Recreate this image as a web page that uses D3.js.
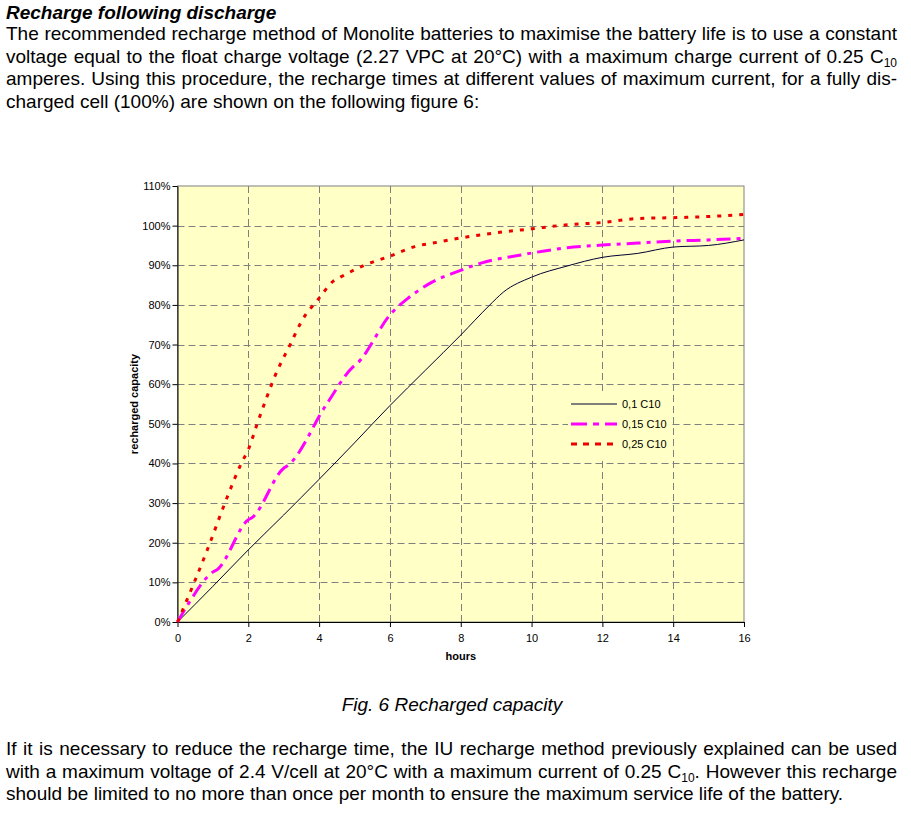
<!DOCTYPE html>
<html lang="en">
<head>
  <meta charset="UTF-8">
  <title>Recharged capacity</title>
  <script src="https://d3js.org/d3.v7.min.js"></script>
  <style>
    body { margin: 0; background: #fff; }
    svg { display: block; }
  </style>
</head>
<body>
<svg width="911" height="831"></svg>
<script>
  // ---- data ----
  const seriesNames = ["0,1 C10", "0,15 C10", "0,25 C10"];

  const hours01 = [0, 1, 2, 3, 4, 5, 6, 7, 8, 8.8, 9.2, 10, 11, 12, 13, 14, 15, 16];
  const cap01 = [0, 9, 18.2, 27, 36, 45.2, 54.6, 63.5, 72.4, 79.8, 83.2, 87, 89.8, 92, 93, 94.6, 95, 96.4];

  const hours015 = [0, 0.3, 1.0, 1.12, 2.0, 2.1, 3.0, 3.12, 4.2, 4.95, 5.07, 6.05, 6.5, 7.1, 7.9, 8.6, 9.7, 11, 12, 13, 14, 15, 16];
  const cap015 = [0, 4.5, 12.6, 13.2, 25.8, 26.3, 38.8, 39.5, 54.8, 64.3, 65.2, 78, 81.6, 85.3, 88.4, 90.6, 92.6, 94.4, 95.1, 95.6, 96.1, 96.4, 96.8];

  const hours025 = [0, 0.45, 0.85, 1.4, 1.8, 2.0, 2.25, 2.5, 2.75, 3.2, 3.5, 4.0, 4.4, 4.6, 5.3, 6.0, 6.7, 7.4, 8, 9, 10, 11, 12, 13, 14, 15, 16];
  const cap025 = [0, 9.5, 18.4, 31.4, 40, 43.5, 50, 56.2, 62, 70.3, 75.8, 81.7, 86, 87, 90.1, 92.3, 94.7, 95.9, 96.9, 98.2, 99.2, 100.2, 100.8, 101.8, 102, 102.3, 102.8];

  const xTicks = [0, 2, 4, 6, 8, 10, 12, 14, 16];
  const yTicks = [0, 10, 20, 30, 40, 50, 60, 70, 80, 90, 100, 110];

  // page text (segments marked sub are subscripts)
  const titleText = "Recharge following discharge";
  const introLines = [
    [{ t: "The recommended recharge method of Monolite batteries to maximise the battery life is to use a constant" }],
    [{ t: "voltage equal to the float charge voltage (2.27 VPC at 20°C) with a maximum charge current of 0.25 C" }, { t: "10", sub: true }],
    [{ t: "amperes. Using this procedure, the recharge times at different values of maximum current, for a fully dis-" }],
    [{ t: "charged cell (100%) are shown on the following figure 6:" }]
  ];
  const captionText = "Fig. 6 Recharged capacity";
  const outroLines = [
    [{ t: "If it is necessary to reduce the recharge time, the IU recharge method previously explained can be used" }],
    [{ t: "with a maximum voltage of 2.4 V/cell at 20°C with a maximum current of 0.25 C" }, { t: "10", sub: true }, { t: ". However this recharge" }],
    [{ t: "should be limited to no more than once per month to ensure the maximum service life of the battery." }]
  ];

  const series = [
    { name: seriesNames[0], hours: hours01, cap: cap01, color: "#000033", width: 1, dash: null },
    { name: seriesNames[1], hours: hours015, cap: cap015, color: "#ff00ff", width: 3, dash: "14,6,4,6" },
    { name: seriesNames[2], hours: hours025, cap: cap025, color: "#ee0000", width: 3, dash: "4,7" }
  ];

  const font = "Arial, 'Liberation Sans', sans-serif";
  const svg = d3.select("svg");

  // ---- prose ----
  const textLeft = 6, textRight = 897;

  function proseLine(segs, y, justify) {
    const t = svg.append("text")
      .attr("x", textLeft)
      .attr("y", y)
      .attr("font-family", font)
      .attr("font-size", "19px")
      .attr("fill", "#000");
    let shifted = false;
    segs.forEach(s => {
      const ts = t.append("tspan").text(s.t);
      if (s.sub) {
        ts.attr("font-size", "12px").attr("dy", 4);
        shifted = true;
      } else if (shifted) {
        ts.attr("dy", -4);
        shifted = false;
      }
    });
    if (justify) {
      // spread words over the full column like the justified source
      const len = t.node().getComputedTextLength();
      const spaces = segs.map(s => s.t).join("").split(" ").length - 1;
      t.attr("word-spacing", (textRight - textLeft - len) / spaces);
    }
  }

  svg.append("text")
    .attr("x", textLeft)
    .attr("y", 19)
    .attr("font-family", font)
    .attr("font-size", "19px")
    .attr("font-weight", "bold")
    .attr("font-style", "italic")
    .text(titleText);

  introLines.forEach((l, i) => proseLine(l, 40 + i * 22.5, i < introLines.length - 1));
  outroLines.forEach((l, i) => proseLine(l, 755 + i * 22.5, i < outroLines.length - 1));

  svg.append("text")
    .attr("x", 452)
    .attr("y", 711)
    .attr("text-anchor", "middle")
    .attr("font-family", font)
    .attr("font-size", "19px")
    .attr("font-style", "italic")
    .text(captionText);

  // ---- chart ----
  const x = d3.scaleLinear().domain([0, 16]).range([177.5, 744]);
  const y = d3.scaleLinear().domain([0, 110]).range([622, 186]);

  const plot = svg.append("g");

  plot.append("rect")
    .attr("x", x(0)).attr("y", y(110))
    .attr("width", x(16) - x(0)).attr("height", y(0) - y(110))
    .attr("fill", "#ffffc6")
    .attr("stroke", "#808080");

  // gridlines
  plot.append("g").selectAll("line")
    .data(yTicks.filter(d => d > 0 && d < 110))
    .join("line")
    .attr("x1", x(0)).attr("x2", x(16))
    .attr("y1", d => Math.round(y(d)) + 0.5).attr("y2", d => Math.round(y(d)) + 0.5)
    .attr("stroke", "#808080").attr("stroke-dasharray", "7,4");

  plot.append("g").selectAll("line")
    .data(xTicks.filter(d => d > 0 && d < 16))
    .join("line")
    .attr("x1", d => Math.round(x(d)) + 0.5).attr("x2", d => Math.round(x(d)) + 0.5)
    .attr("y1", y(110)).attr("y2", y(0))
    .attr("stroke", "#808080").attr("stroke-dasharray", "7,4");

  // axes
  const yAxis = plot.append("g")
    .attr("transform", "translate(" + x(0) + ",0)")
    .call(d3.axisLeft(y).tickValues(yTicks).tickFormat(d => d + "%").tickSize(5).tickSizeOuter(0).tickPadding(2));

  const xAxis = plot.append("g")
    .attr("transform", "translate(0," + y(0) + ")")
    .call(d3.axisBottom(x).tickValues(xTicks).tickSize(5).tickSizeOuter(0).tickPadding(7));

  [yAxis, xAxis].forEach(a => {
    a.selectAll("path, line").attr("stroke", "#000");
    a.selectAll("text").attr("font-family", font).attr("font-size", "11px").attr("fill", "#000");
  });

  plot.append("text")
    .attr("x", (x(0) + x(16)) / 2)
    .attr("y", 660)
    .attr("text-anchor", "middle")
    .attr("font-family", font)
    .attr("font-size", "11px")
    .attr("font-weight", "bold")
    .text("hours");

  plot.append("text")
    .attr("transform", "translate(138," + ((y(0) + y(110)) / 2) + ") rotate(-90)")
    .attr("text-anchor", "middle")
    .attr("font-family", font)
    .attr("font-size", "11px")
    .attr("font-weight", "bold")
    .text("recharged capacity");

  // lines
  const line = d3.line()
    .x(d => x(d[0]))
    .y(d => y(d[1]))
    .curve(d3.curveMonotoneX);

  plot.append("g").selectAll("path")
    .data(series)
    .join("path")
    .attr("d", s => line(s.hours.map((h, i) => [h, s.cap[i]])))
    .attr("fill", "none")
    .attr("stroke", s => s.color)
    .attr("stroke-width", s => s.width)
    .attr("stroke-dasharray", s => s.dash);

  // legend
  const legend = plot.append("g").attr("transform", "translate(568,394)");
  legend.append("rect")
    .attr("width", 102).attr("height", 66)
    .attr("fill", "#ffffc6");

  const item = legend.selectAll(".item")
    .data(series)
    .join("g")
    .attr("class", "item")
    .attr("transform", (d, i) => "translate(0," + (10 + i * 20) + ")");

  item.append("line")
    .attr("x1", 3).attr("x2", 49)
    .attr("stroke", d => d.color)
    .attr("stroke-width", d => d.width)
    .attr("stroke-dasharray", (d, i) => i === 1 ? "16,6,6,6" : (i === 2 ? "6,6" : null));

  item.append("text")
    .attr("x", 54)
    .attr("dy", "0.35em")
    .attr("font-family", font)
    .attr("font-size", "11px")
    .attr("fill", "#000")
    .text(d => d.name);
</script>
</body>
</html>
